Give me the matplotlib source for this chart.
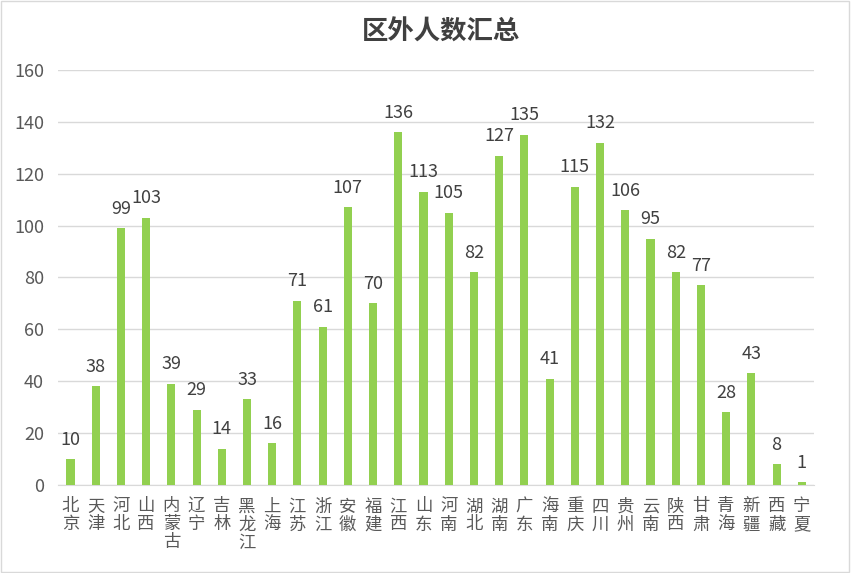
import matplotlib.pyplot as plt

plt.rcParams['font.family'] = ['Noto Sans CJK SC', 'DejaVu Sans']

provinces = ['北京', '天津', '河北', '山西', '内蒙古', '辽宁', '吉林', '黑龙江', '上海', '江苏',
             '浙江', '安徽', '福建', '江西', '山东', '河南', '湖北', '湖南', '广东', '海南',
             '重庆', '四川', '贵州', '云南', '陕西', '甘肃', '青海', '新疆', '西藏', '宁夏']
counts = [10, 38, 99, 103, 39, 29, 14, 33, 16, 71, 61, 107, 70, 136, 113, 105, 82, 127, 135, 41,
          115, 132, 106, 95, 82, 77, 28, 43, 8, 1]
yticks = [0, 20, 40, 60, 80, 100, 120, 140, 160]

fig = plt.figure(figsize=(8.51, 5.73), dpi=100)
fig.patches.append(plt.Rectangle((0.001, 0.001), 0.997, 0.997, transform=fig.transFigure,
                                 fill=False, edgecolor='#D9D9D9', linewidth=1))
ax = fig.add_axes([0.068, 0.1536, 0.889, 0.7244])

x = list(range(len(provinces)))
bars = ax.bar(x, counts, width=0.32, color='#92D050', zorder=3)
for xi, v in zip(x, counts):
    ax.text(xi, v + 4, str(v), ha='center', va='bottom', fontsize=13, color='#404040')

ax.set_xlim(-0.5, len(provinces) - 0.5)
ax.set_ylim(0, 160)
ax.set_yticks(yticks)
ax.set_xticks(x)
ax.set_xticklabels(['\n'.join(p) for p in provinces], fontsize=12.5, color='#595959',
                   linespacing=1.0, va='top')
ax.tick_params(axis='y', labelsize=13, labelcolor='#595959', length=0, pad=10)
ax.tick_params(axis='x', length=0, pad=9)
ax.grid(axis='y', color='#D9D9D9', linewidth=1, zorder=0)
for s in ['top', 'right', 'left']:
    ax.spines[s].set_visible(False)
ax.spines['bottom'].set_color('#D9D9D9')

fig.text(0.518, 0.943, '区外人数汇总', ha='center', va='center', fontsize=19,
         fontweight='bold', color='#404040')

fig.savefig('out.png', dpi=100)
